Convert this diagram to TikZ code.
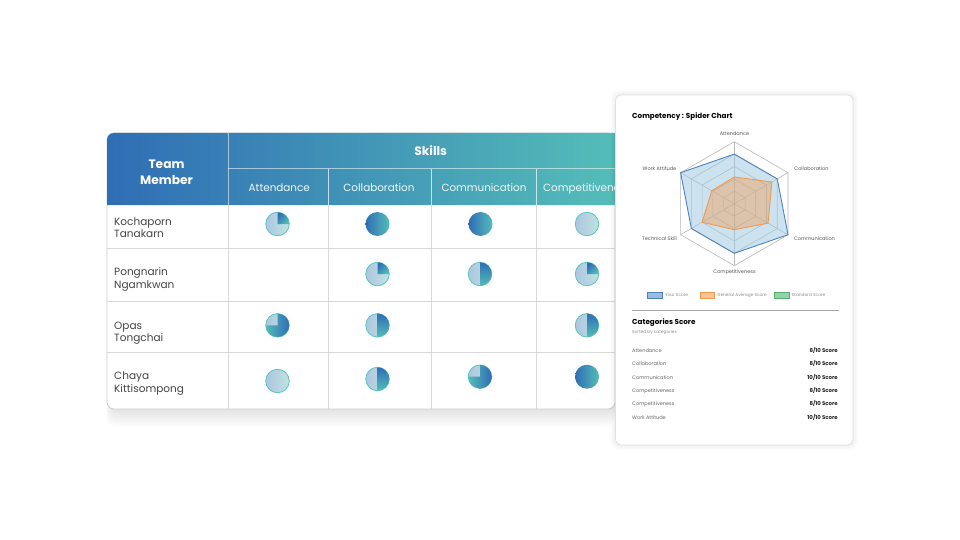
\documentclass[tikz,border=0pt]{standalone}
\usepackage{fontspec}
\setmainfont{Poppins}
\usepackage{tikz}
\usetikzlibrary{calc,positioning}
\definecolor{headblue}{HTML}{2F6DB5}
\definecolor{headteal}{HTML}{54BDB8}
\definecolor{lightblue}{HTML}{AEC5E0}
\definecolor{lightteal}{HTML}{BEE3E0}
\definecolor{ringteal}{HTML}{5CC4C0}
\definecolor{gridgrey}{HTML}{D9D9D9}
\definecolor{namegrey}{HTML}{444444}
\definecolor{scoreblue}{HTML}{4C84C0}
\definecolor{scoreorange}{HTML}{F09A50}
\definecolor{scoregreen}{HTML}{55B070}
\definecolor{spiderfill}{HTML}{A4CBE2}

\begin{document}
\begin{tikzpicture}[x=1pt, y=-1pt]
\tikzset{headlabel/.style={font=\fontsize{12.2}{16}\selectfont\bfseries,text=white,align=center,inner sep=0},
collabel/.style={font=\fontsize{10.4}{13}\selectfont,text=white!92!headteal,inner sep=0,text height=9.4,text depth=2.5},
namelabel/.style={font=\fontsize{10.5}{12.5}\selectfont,text=namegrey,align=left,anchor=west,inner sep=0},
piebase/.style={circle,draw=ringteal,line width=0.8,minimum size=23.5,inner sep=0},
pielight/.style={piebase,left color=lightblue,right color=lightteal},
piefull/.style={circle,minimum size=24,inner sep=0,left color=headblue,right color=headteal},
chartlabel/.style={font=\fontsize{5}{6}\selectfont,text=black!65,inner sep=0,text height=5,text depth=1.2},
legendbox/.style={minimum width=14.5,minimum height=5.8,inner sep=0,line width=0.7},
legendlabel/.style={font=\fontsize{4.3}{6}\selectfont,text=black!45,anchor=west,inner sep=0,text height=3.5,text depth=1},
cardtitle/.style={font=\fontsize{7.2}{9}\selectfont\bfseries,text=black,anchor=west,inner sep=0},
rowlabel/.style={font=\fontsize{5}{6}\selectfont,text=black!60,anchor=west,inner sep=0,text height=5,text depth=1.2},
rowscore/.style={font=\fontsize{5.4}{6}\selectfont\bfseries,text=black!85,anchor=east,inner sep=0,text height=5,text depth=1.2},
ring/.style={draw=black!28,line width=0.6}}

\useasboundingbox (0,0) rectangle (960,540);
\fill[white] (0,0) rectangle (960,540);

%% Table
\foreach \d in {2,4,...,18} \fill[black,opacity=0.012,rounded corners=9] ({111-\d/4},200) rectangle ({615},{409+\d});
\fill[white,draw=black!20,line width=0.8,rounded corners=7] (107,133) rectangle (615,409);
\shade[left color=headblue,right color=headteal] (107,205) -- (107,140) arc (180:270:7) -- (615,133) -- (615,205) -- cycle;

\foreach \y in {248,301.5,352.5} \draw[gridgrey,line width=0.8] (107,\y) -- (615,\y);
\foreach \x in {228,328,431,536} \draw[gridgrey,line width=0.8] (\x,205) -- (\x,409);
\draw[white,opacity=0.55,line width=1] (228,133) -- (228,205);
\draw[white,opacity=0.55,line width=1] (228,169) -- (615,169);
\foreach \x in {328,431,536} \draw[white,opacity=0.7,line width=1] (\x,169) -- (\x,205);

\node (team) [headlabel] at (166.5,172.3) {Team\\Member};
\node (skills) [headlabel] at (430.7,150.5) {Skills};
\foreach \u/\x/\lab in {h1/279.3/Attendance, h2/379/Collaboration, h3/484/Communication} \node (\u) [collabel] at (\x,188.3) {\lab};
\node (h4) [collabel,anchor=west] at (543,188.3) {Competitiveness};

\node (m1) [namelabel] at (114,227.5) {Kochaporn\\Tanakarn};
\node (m2) [namelabel] at (114,279.3) {Pongnarin\\Ngamkwan};
\node (m3) [namelabel] at (114,333) {Opas\\Tongchai};
\node (m4) [namelabel] at (114,383.5) {Chaya\\Kittisompong};

%% Scores
\foreach \u/\x/\y in {p11/277.5/224, p14/587/224, p41/277.5/381} \node (\u) [pielight] at (\x,\y) {};
\foreach \u/\x/\y in {p12/377.5/224, p13/480.5/224, p44/587/376.7} \node (\u) [piefull] at (\x,\y) {};
\foreach \u/\x/\y in {p22/377.5/274, p23/480/274, p24/587/274, p31/277.5/325.3, p32/377.5/325.3, p34/587/325.3, p42/377.5/379, p43/480/376.7} \node (\u) [pielight] at (\x,\y) {};
\foreach \u in {p11,p22,p24} \shade[left color=headblue,right color=headteal,shading angle=45] (\u.center) -- ++(0,-11.7) arc (-90:0:11.7) -- cycle;
\foreach \u in {p23,p32,p34,p42} \shade[top color=headblue,bottom color=headteal] (\u.center) -- ++(0,-11.7) arc (-90:90:11.7) -- cycle;
\foreach \u in {p31,p43} \shade[left color=headteal,right color=headblue] (\u.center) -- ++(0,-11.7) arc (-90:180:11.7) -- cycle;

%% Card
\foreach \d in {1,2,...,5} \fill[black,opacity=0.013,rounded corners=8] ({615.5-\d},{95-\d}) rectangle ({853+\d},{445+\d});
\fill[white,draw=black!12,line width=0.7,rounded corners=6] (615.5,95) rectangle (853,445);

\node (title) [cardtitle] at (632,116.8) {Competency : Spider Chart};

%% Spider
\coordinate (hub) at (734.3,203.7);
\foreach \r in {12.4,24.8,37.2,49.6,62} \draw[ring] ($(hub)+(-90:\r)$) -- ($(hub)+(-30:\r)$) -- ($(hub)+(30:\r)$) -- ($(hub)+(90:\r)$) -- ($(hub)+(150:\r)$) -- ($(hub)+(210:\r)$) -- cycle;
\foreach \a in {-90,-30,30,90,150,210} \draw[ring] (hub) -- ($(hub)+(\a:62)$);

\draw[draw=scoreblue,fill=spiderfill,fill opacity=0.55,line width=0.9] ($(hub)+(-90:49.6)$) -- ($(hub)+(-30:49.6)$) -- ($(hub)+(30:62)$) -- ($(hub)+(90:49.6)$) -- ($(hub)+(150:49.6)$) -- ($(hub)+(210:62)$) -- cycle;
\draw[draw=scoreorange,fill=scoreorange,fill opacity=0.42,line width=0.9] ($(hub)+(-90:26.7)$) -- ($(hub)+(-30:43.4)$) -- ($(hub)+(30:39)$) -- ($(hub)+(90:26)$) -- ($(hub)+(150:37.2)$) -- ($(hub)+(210:26)$) -- cycle;

\foreach \u/\x/\y/\lab in {c1/734.5/134/Attendance, c2/811.5/168.3/Collaboration, c3/814.5/239/Communication, c4/734.5/271.5/Competitiveness, c5/659.5/239/Technical Skill, c6/659.5/168.3/Work Attitude} \node (\u) [chartlabel] at (\x,\y) {\lab};

%% Legend
\node (k1) [legendbox,draw=scoreblue,fill=scoreblue!55!white] at (655,295) {};
\node (k2) [legendbox,draw=scoreorange,fill=scoreorange!60!white] at (707.3,295) {};
\node (k3) [legendbox,draw=scoregreen,fill=scoregreen!60!white] at (781.7,295) {};
\node (t1) [legendlabel] at (665,295) {Your Score};
\node (t2) [legendlabel] at (717,295) {General Average Score};
\node (t3) [legendlabel] at (791.7,295) {Standard Score};

\draw[black!35,line width=0.7] (632,310.3) -- (838.5,310.3);

\node (cats) [cardtitle] at (632,322.5) {Categories Score};
\node (sorted) [legendlabel] at (632,332.3) {Sorted by categories};

\foreach \i/\y/\lab/\val in {1/350.7/Attendance/8, 2/364/Collaboration/8, 3/377.3/Communication/10, 4/390.7/Competitiveness/8, 5/404/Competitiveness/8, 6/417.7/Work Attitude/10} {
\node (r\i) [rowlabel] at (632,\y) {\lab};
\node (v\i) [rowscore] at (838,\y) {\val/10 Score};
}

\end{tikzpicture}
\end{document}
